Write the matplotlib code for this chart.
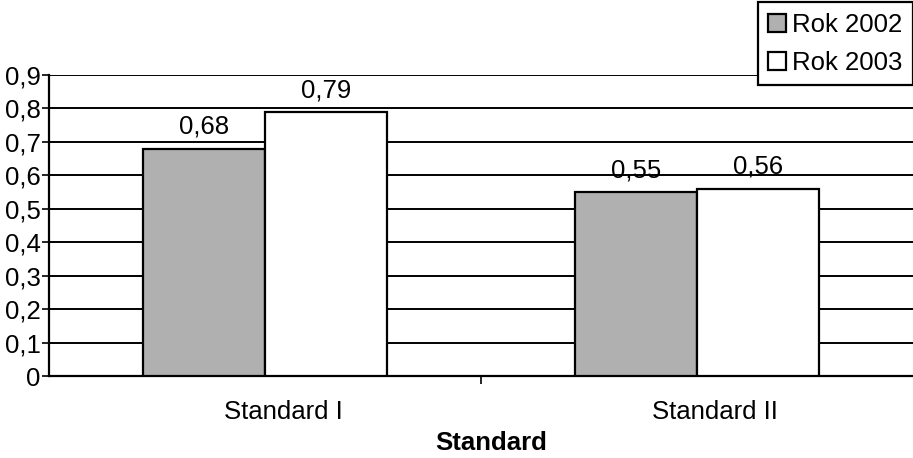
import matplotlib
matplotlib.use("Agg")
import matplotlib.pyplot as plt
import matplotlib.transforms as mtransforms
import numpy as np

categories = ["Standard I", "Standard II"]
series_names = ["Rok 2002", "Rok 2003"]
values_2002 = [0.68, 0.55]
values_2003 = [0.79, 0.56]
yticks = [0, 0.1, 0.2, 0.3, 0.4, 0.5, 0.6, 0.7, 0.8, 0.9]

plt.rcParams['font.family'] = ['Liberation Sans', 'DejaVu Sans']
FS = 18.5

fig = plt.figure(figsize=(9.13, 4.58), dpi=100)
ax = fig.add_axes([49/913, 1-376/458, 1-49/913, (376-75)/458])

x = np.arange(len(categories))
w = 0.283
b1 = ax.bar(x - w/2, values_2002, w, color='#b0b0b0', edgecolor='black', linewidth=1.6,
            label=series_names[0], zorder=3)
b2 = ax.bar(x + w/2, values_2003, w, color='white', edgecolor='black', linewidth=1.6,
            label=series_names[1], zorder=3)

for bars, vals in ((b1, values_2002), (b2, values_2003)):
    for r, v in zip(bars, vals):
        ax.annotate(f"{v:.2f}".replace('.', ','), (r.get_x() + r.get_width()/2, v),
                    xytext=(0, 7), textcoords='offset points',
                    ha='center', va='bottom', fontsize=FS, zorder=4)

ax.set_xlim(-0.5, 1.5)
ax.set_ylim(0, 0.9)
ax.set_yticks(yticks)
ax.set_yticklabels(["0" if t == 0 else f"{t:.1f}".replace('.', ',') for t in yticks], fontsize=FS)
ax.yaxis.grid(True, color='black', linewidth=1.4, zorder=0)
ax.set_axisbelow(True)

ax.set_xticks([0.5], minor=False)
ax.set_xticklabels([""])
ax.tick_params(axis='x', which='major', length=6, width=1.2, direction='out')
ax.set_xticks(x, minor=True)
ax.set_xticklabels(categories, minor=True, fontsize=FS)
ax.tick_params(axis='x', which='minor', length=0, pad=17)
ax.tick_params(axis='y', length=5, width=1.2, direction='out', pad=1)
shift = mtransforms.ScaledTranslation(18/100, 0, fig.dpi_scale_trans)
for lab in ax.get_xticklabels(minor=True):
    lab.set_transform(lab.get_transform() + shift)

for s in ['top', 'right']:
    ax.spines[s].set_visible(False)
ax.spines['left'].set_linewidth(1.6)
ax.spines['bottom'].set_linewidth(1.6)

ax.set_xlabel("Standard", fontsize=FS, fontweight='bold')
ax.xaxis.set_label_coords(0.5 + 10/864, -0.17 - 4/301, transform=ax.transAxes)

leg = fig.legend(handles=[b1, b2], labels=series_names, loc='upper right',
                 bbox_to_anchor=(1.0, 0.995), fontsize=FS, frameon=True, fancybox=False,
                 edgecolor='black', framealpha=1, handlelength=0.7, handleheight=0.7,
                 handletextpad=0.25, borderpad=0.4, labelspacing=0.55, borderaxespad=0.0)
leg.get_frame().set_linewidth(1.6)

fig.savefig("out.png", dpi=100)
